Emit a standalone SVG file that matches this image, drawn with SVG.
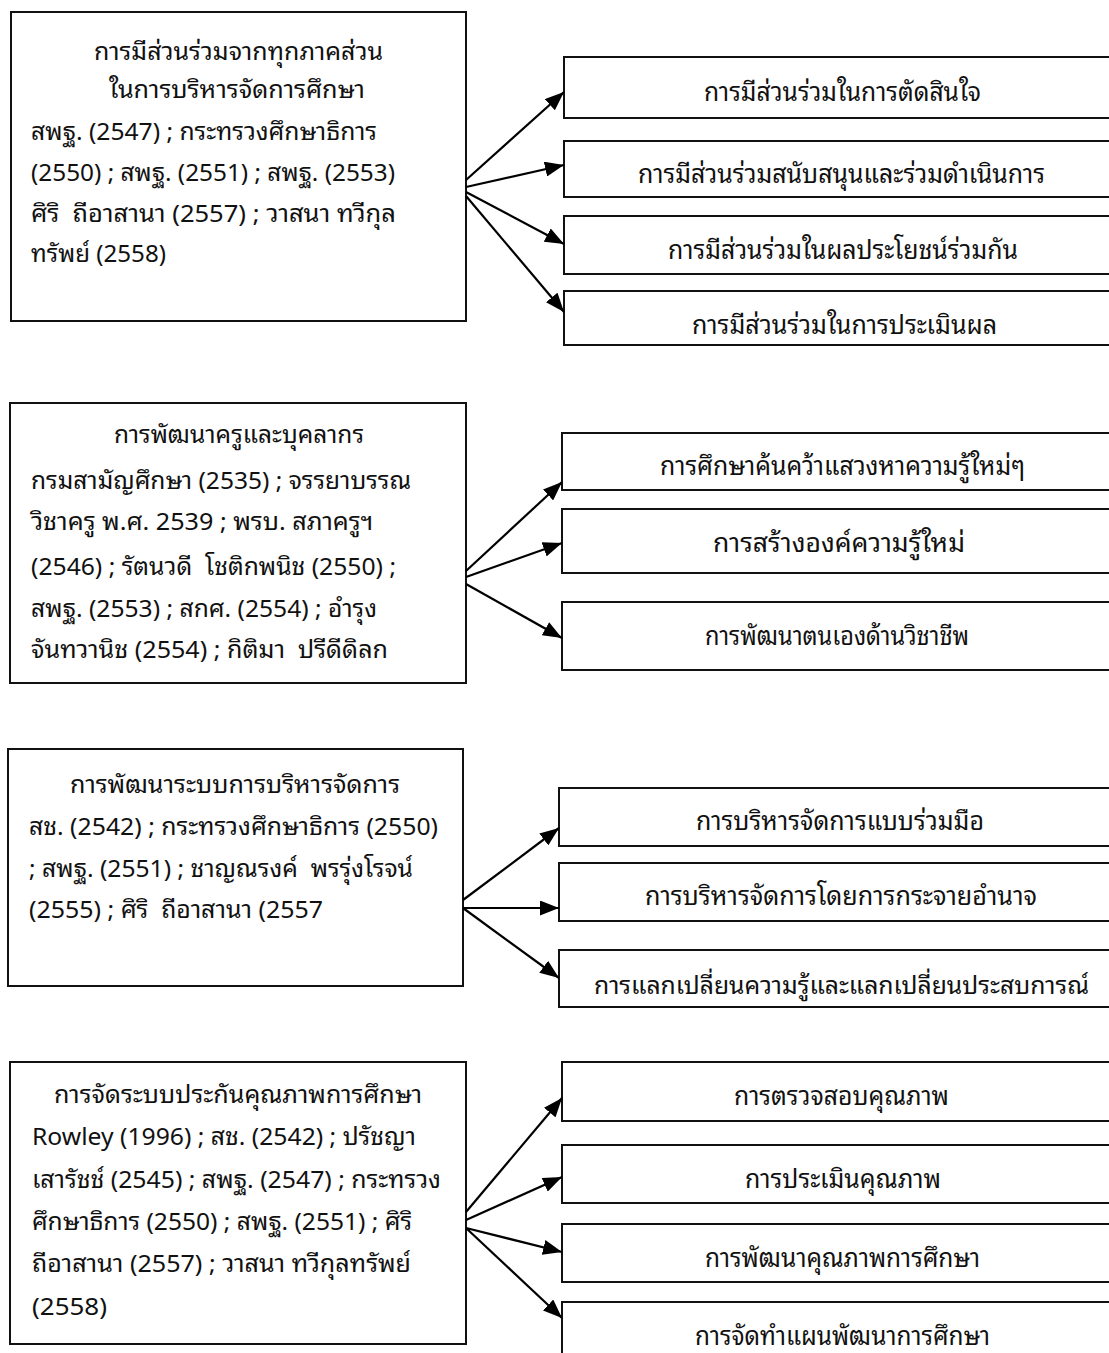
<svg xmlns="http://www.w3.org/2000/svg" width="1109" height="1353" viewBox="0 0 1109 1353">
<style>
.box{fill:#fff;stroke:#111;stroke-width:2}
.t{font-family:'Noto Sans Thai Looped','Loma','Garuda','Sarabun','Waree','Noto Sans Thai','Noto Sans','DejaVu Sans',sans-serif;font-size:24px;fill:#111;white-space:pre}
.r{font-family:'Noto Sans Thai Looped','Loma','Garuda','Sarabun','Waree','Noto Sans Thai','Noto Sans','DejaVu Sans',sans-serif;font-size:26px;fill:#111;white-space:pre}
.c{stroke:#000;stroke-width:2.2;fill:none;marker-end:url(#ah)}
</style>
<defs>
<marker id="ah" viewBox="0 0 19 15" refX="19" refY="7.5" markerWidth="19" markerHeight="15" markerUnits="userSpaceOnUse" orient="auto">
<path d="M0,0 L19,7.5 L0,15 z" fill="#000"/>
</marker>
</defs>
<rect width="1109" height="1353" fill="#fff"/>

<g id="src1">
<rect class="box" x="11" y="12" width="455" height="309"/>
<text class="t" x="94" y="60" textLength="289" lengthAdjust="spacingAndGlyphs">การมีส่วนร่วมจากทุกภาคส่วน</text>
<text class="t" x="109" y="98" textLength="256" lengthAdjust="spacingAndGlyphs">ในการบริหารจัดการศึกษา</text>
<text class="t" x="31" y="140" textLength="346" lengthAdjust="spacingAndGlyphs">สพฐ. (2547) ; กระทรวงศึกษาธิการ</text>
<text class="t" x="31" y="181" textLength="364" lengthAdjust="spacingAndGlyphs">(2550) ; สพฐ. (2551) ; สพฐ. (2553)</text>
<text class="t" x="31" y="222" textLength="365" lengthAdjust="spacingAndGlyphs">ศิริ  ถีอาสานา (2557) ; วาสนา ทวีกุล</text>
<text class="t" x="31" y="262" textLength="135" lengthAdjust="spacingAndGlyphs">ทรัพย์ (2558)</text>
</g>
<g id="g1r1"><rect class="box" x="564" y="57" width="560" height="61"/>
<text class="r" x="704" y="101" textLength="277" lengthAdjust="spacingAndGlyphs">การมีส่วนร่วมในการตัดสินใจ</text></g>
<g id="g1r2"><rect class="box" x="564" y="141" width="560" height="56"/>
<text class="r" x="638" y="183" textLength="407" lengthAdjust="spacingAndGlyphs">การมีส่วนร่วมสนับสนุนและร่วมดำเนินการ</text></g>
<g id="g1r3"><rect class="box" x="564" y="216" width="560" height="58"/>
<text class="r" x="668" y="259" textLength="350" lengthAdjust="spacingAndGlyphs">การมีส่วนร่วมในผลประโยชน์ร่วมกัน</text></g>
<g id="g1r4"><rect class="box" x="564" y="291" width="560" height="54"/>
<text class="r" x="692" y="334" textLength="305" lengthAdjust="spacingAndGlyphs">การมีส่วนร่วมในการประเมินผล</text></g>

<g id="src2">
<rect class="box" x="10" y="403" width="456" height="280"/>
<text class="t" x="114" y="443" textLength="250" lengthAdjust="spacingAndGlyphs">การพัฒนาครูและบุคลากร</text>
<text class="t" x="31" y="489" textLength="380" lengthAdjust="spacingAndGlyphs">กรมสามัญศึกษา (2535) ; จรรยาบรรณ</text>
<text class="t" x="31" y="530" textLength="342" lengthAdjust="spacingAndGlyphs">วิชาครู พ.ศ. 2539 ; พรบ. สภาครูฯ</text>
<text class="t" x="31" y="575" textLength="365" lengthAdjust="spacingAndGlyphs">(2546) ; รัตนวดี  โชติกพนิช (2550) ;</text>
<text class="t" x="31" y="617" textLength="346" lengthAdjust="spacingAndGlyphs">สพฐ. (2553) ; สกศ. (2554) ; อำรุง</text>
<text class="t" x="31" y="658" textLength="357" lengthAdjust="spacingAndGlyphs">จันทวานิช (2554) ; กิติมา  ปรีดีดิลก</text>
</g>
<g id="g2r1"><rect class="box" x="562" y="433" width="560" height="57"/>
<text class="r" x="660" y="475" textLength="365" lengthAdjust="spacingAndGlyphs">การศึกษาค้นคว้าแสวงหาความรู้ใหม่ๆ</text></g>
<g id="g2r2"><rect class="box" x="562" y="509" width="560" height="64"/>
<text class="r" x="713" y="552" textLength="252" lengthAdjust="spacingAndGlyphs">การสร้างองค์ความรู้ใหม่</text></g>
<g id="g2r3"><rect class="box" x="562" y="602" width="560" height="68"/>
<text class="r" x="705" y="645" textLength="264" lengthAdjust="spacingAndGlyphs">การพัฒนาตนเองด้านวิชาชีพ</text></g>

<g id="src3">
<rect class="box" x="8" y="749" width="455" height="237"/>
<text class="t" x="70" y="793" textLength="330" lengthAdjust="spacingAndGlyphs">การพัฒนาระบบการบริหารจัดการ</text>
<text class="t" x="29" y="835" textLength="409" lengthAdjust="spacingAndGlyphs">สช. (2542) ; กระทรวงศึกษาธิการ (2550)</text>
<text class="t" x="29" y="877" textLength="384" lengthAdjust="spacingAndGlyphs">; สพฐ. (2551) ; ชาญณรงค์  พรรุ่งโรจน์</text>
<text class="t" x="29" y="918" textLength="294" lengthAdjust="spacingAndGlyphs">(2555) ; ศิริ  ถีอาสานา (2557</text>
</g>
<g id="g3r1"><rect class="box" x="559" y="788" width="565" height="58"/>
<text class="r" x="696" y="830" textLength="288" lengthAdjust="spacingAndGlyphs">การบริหารจัดการแบบร่วมมือ</text></g>
<g id="g3r2"><rect class="box" x="559" y="863" width="565" height="58"/>
<text class="r" x="645" y="905" textLength="392" lengthAdjust="spacingAndGlyphs">การบริหารจัดการโดยการกระจายอำนาจ</text></g>
<g id="g3r3"><rect class="box" x="559" y="950" width="565" height="57"/>
<text class="r" x="594" y="994" textLength="495" lengthAdjust="spacingAndGlyphs" style="font-size:24px">การแลกเปลี่ยนความรู้และแลกเปลี่ยนประสบการณ์</text></g>

<g id="src4">
<rect class="box" x="10" y="1062" width="456" height="282"/>
<text class="t" x="54" y="1103" textLength="368" lengthAdjust="spacingAndGlyphs">การจัดระบบประกันคุณภาพการศึกษา</text>
<text class="t" x="32" y="1145" textLength="384" lengthAdjust="spacingAndGlyphs">Rowley (1996) ; สช. (2542) ; ปรัชญา</text>
<text class="t" x="32" y="1188" textLength="409" lengthAdjust="spacingAndGlyphs">เสารัชช์ (2545) ; สพฐ. (2547) ; กระทรวง</text>
<text class="t" x="32" y="1230" textLength="380" lengthAdjust="spacingAndGlyphs">ศึกษาธิการ (2550) ; สพฐ. (2551) ; ศิริ</text>
<text class="t" x="32" y="1272" textLength="379" lengthAdjust="spacingAndGlyphs">ถีอาสานา (2557) ; วาสนา ทวีกุลทรัพย์</text>
<text class="t" x="32" y="1315" textLength="75" lengthAdjust="spacingAndGlyphs">(2558)</text>
</g>
<g id="g4r1"><rect class="box" x="562" y="1062" width="560" height="59"/>
<text class="r" x="734" y="1105" textLength="215" lengthAdjust="spacingAndGlyphs">การตรวจสอบคุณภาพ</text></g>
<g id="g4r2"><rect class="box" x="562" y="1145" width="560" height="58"/>
<text class="r" x="745" y="1188" textLength="196" lengthAdjust="spacingAndGlyphs">การประเมินคุณภาพ</text></g>
<g id="g4r3"><rect class="box" x="562" y="1224" width="560" height="58"/>
<text class="r" x="705" y="1267" textLength="275" lengthAdjust="spacingAndGlyphs">การพัฒนาคุณภาพการศึกษา</text></g>
<g id="g4r4"><rect class="box" x="562" y="1302" width="560" height="70"/>
<text class="r" x="695" y="1345" textLength="295" lengthAdjust="spacingAndGlyphs">การจัดทำแผนพัฒนาการศึกษา</text></g>

<g id="connectors">
<line class="c" x1="466" y1="180" x2="564" y2="92"/>
<line class="c" x1="466" y1="187" x2="564" y2="165"/>
<line class="c" x1="466" y1="192" x2="564" y2="244"/>
<line class="c" x1="466" y1="196" x2="564" y2="312"/>
<line class="c" x1="466" y1="571" x2="562" y2="482"/>
<line class="c" x1="466" y1="577" x2="562" y2="543"/>
<line class="c" x1="466" y1="584" x2="562" y2="638"/>
<line class="c" x1="463" y1="900" x2="559" y2="828"/>
<line class="c" x1="463" y1="908" x2="559" y2="908"/>
<line class="c" x1="463" y1="908" x2="559" y2="978"/>
<line class="c" x1="466" y1="1212" x2="562" y2="1098"/>
<line class="c" x1="466" y1="1220" x2="562" y2="1177"/>
<line class="c" x1="466" y1="1228" x2="562" y2="1252"/>
<line class="c" x1="466" y1="1228" x2="562" y2="1318"/>
</g>
</svg>
